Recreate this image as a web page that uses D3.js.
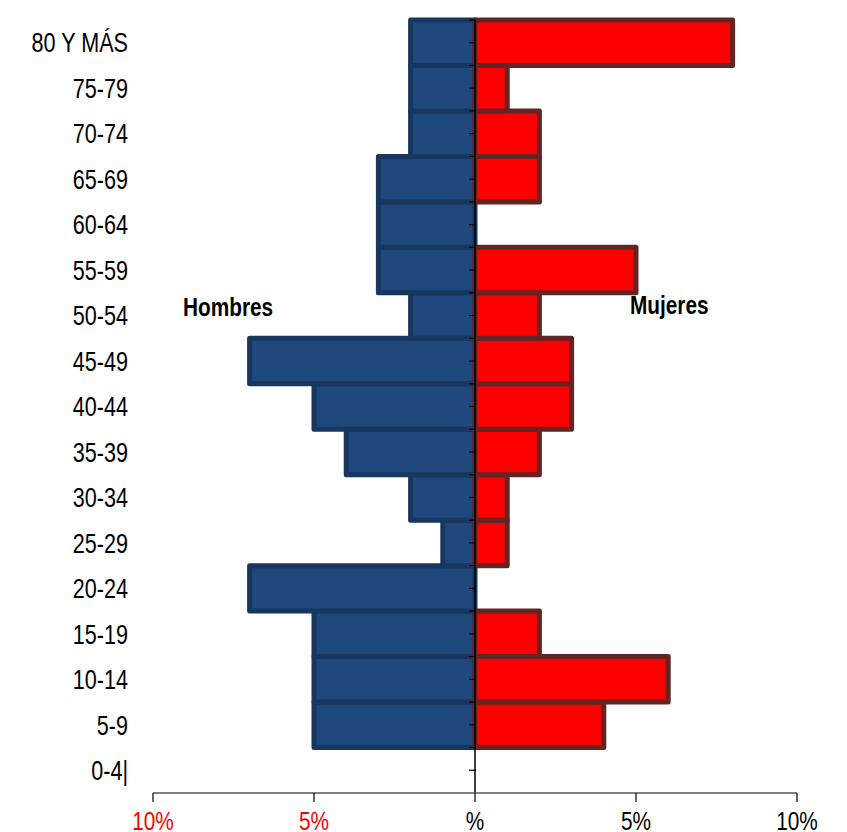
<!DOCTYPE html>
<html><head><meta charset="utf-8">
<script src="https://cdn.jsdelivr.net/npm/d3@7"></script>
<style>body{margin:0;background:#fff}svg{display:block}</style>
</head><body>
<svg id="c" width="847" height="832"></svg>
<script>
const ageGroups = ["0-4|","5-9","10-14","15-19","20-24","25-29","30-34","35-39","40-44","45-49","50-54","55-59","60-64","65-69","70-74","75-79","80 Y MÁS"];
const hombres = [0,5,5,5,7,1,2,4,5,7,2,3,3,3,2,2,2];
const mujeres = [0,4,6,2,0,1,1,2,3,3,2,5,0,2,2,1,8];
const xTicks = [-10,-5,0,5,10];
const xTickLabels = ["10%","5%","%","5%","10%"];

const svg = d3.select("#c");
const font = "'Liberation Sans',Arial,sans-serif";
const SX = 0.8;
const x = d3.scaleLinear().domain([-10,10]).range([153,797]);
const y = d3.scaleBand().domain(ageGroups.slice().reverse()).range([20,793]).padding(0);

const g = svg.append("g");
g.selectAll(".h").data(ageGroups).join("rect")
  .attr("x",(d,i)=>x(-hombres[i])).attr("y",d=>y(d))
  .attr("width",(d,i)=>x(0)-x(-hombres[i])).attr("height",y.bandwidth())
  .attr("fill",(d,i)=>hombres[i]>0?"#1f497d":"none")
  .attr("stroke",(d,i)=>hombres[i]>0?"#17375e":"none")
  .attr("stroke-width",5).attr("stroke-linejoin","round");
g.selectAll(".m").data(ageGroups).join("rect")
  .attr("x",x(0)).attr("y",d=>y(d))
  .attr("width",(d,i)=>x(mujeres[i])-x(0)).attr("height",y.bandwidth())
  .attr("fill",(d,i)=>mujeres[i]>0?"#ff0000":"none")
  .attr("stroke",(d,i)=>mujeres[i]>0?"#632523":"none")
  .attr("stroke-width",5).attr("stroke-linejoin","round");

svg.append("line").attr("x1",x(0)).attr("x2",x(0)).attr("y1",20).attr("y2",793)
  .attr("stroke","#000").attr("stroke-width",1.5);
const halfTicks = [];
ageGroups.forEach(d=>{halfTicks.push(y(d)); halfTicks.push(y(d)+y.bandwidth()/2);});
svg.selectAll(".vt").data(halfTicks).join("line")
  .attr("x1",x(0)-6).attr("x2",x(0)+1).attr("y1",d=>d).attr("y2",d=>d)
  .attr("stroke","#000").attr("stroke-width",1.2);

function narrowText(px, py, str, opts){
  const t = svg.append("text")
    .attr("transform",`translate(${px},${py}) scale(${SX},1)`)
    .attr("font-family",font).attr("font-size",opts.size)
    .attr("text-anchor",opts.anchor||"start")
    .attr("fill",opts.fill||"#000").text(str);
  if(opts.bold) t.attr("font-weight","bold");
  if(opts.dy) t.attr("dy",opts.dy);
  return t;
}

ageGroups.forEach(d=>{
  narrowText(128, y(d)+y.bandwidth()/2, d, {size:27, anchor:"end", dy:"0.36em"});
});

svg.append("line").attr("x1",x(-10)).attr("x2",x(10)).attr("y1",793).attr("y2",793)
  .attr("stroke","#555").attr("stroke-width",1.5);
svg.selectAll(".bt").data(xTicks).join("line")
  .attr("x1",d=>x(d)).attr("x2",d=>x(d)).attr("y1",793).attr("y2",802)
  .attr("stroke","#000").attr("stroke-width",1.2);
xTicks.forEach((d,i)=>{
  narrowText(x(d), 830, xTickLabels[i], {size:26, anchor:"middle", fill:d<0?"#ff0000":"#000"});
});

narrowText(183, 316, "Hombres", {size:26, bold:true});
narrowText(630, 314, "Mujeres", {size:26, bold:true});
</script>
</body></html>
